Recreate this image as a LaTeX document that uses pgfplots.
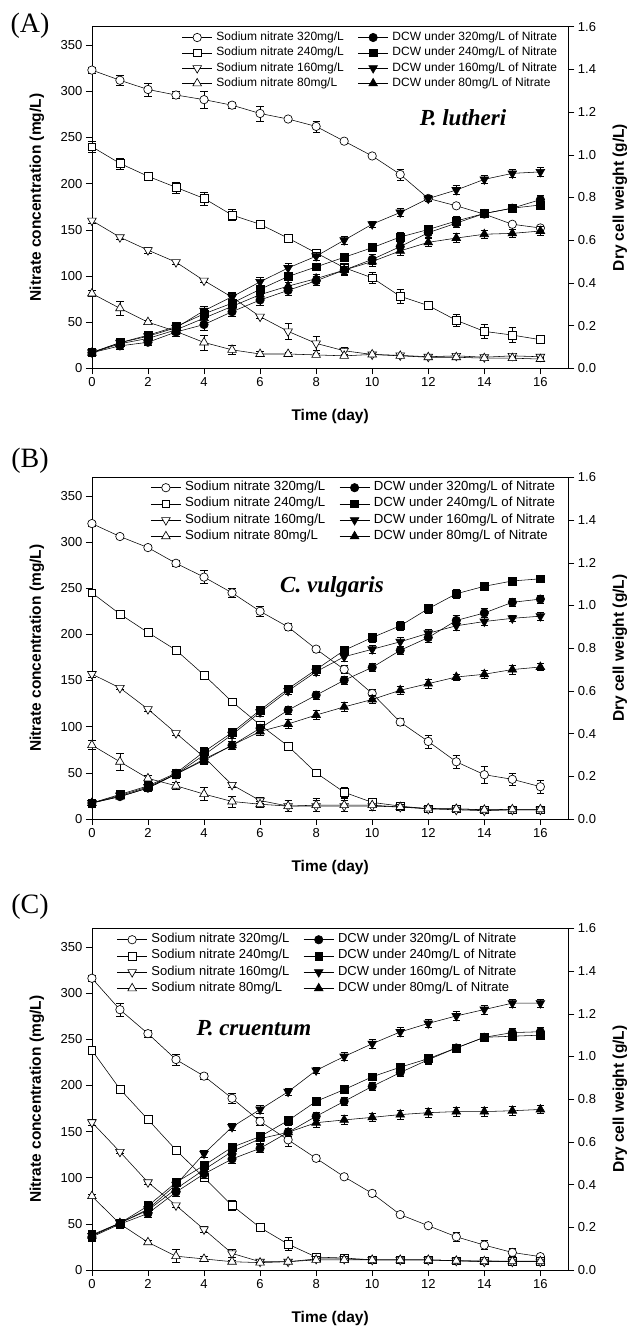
\documentclass[border=0pt]{standalone}
\usepackage{fontspec}
\setmainfont{Liberation Sans}
\newfontfamily\serifnt{Liberation Serif}
\usepackage{pgfplots}
\usepackage{pgfplotstable}
\pgfplotsset{compat=1.18}

\pgfplotsset{
 base/.style={black, line width=0.55pt, every mark/.append style={solid, line width=0.65pt}},
 s320/.style={base, mark=*, mark size=4.2pt, every mark/.append style={fill=white}},
 s240/.style={base, mark=square*, mark size=3.9pt, every mark/.append style={fill=white}},
 s160/.style={base, mark=triangle*, mark size=5pt, every mark/.append style={fill=white, rotate=180}},
 s80/.style={base, mark=triangle*, mark size=5pt, every mark/.append style={fill=white}},
 d320/.style={base, mark=*, mark size=4.2pt, every mark/.append style={fill=black}},
 d240/.style={base, mark=square*, mark size=3.9pt, every mark/.append style={fill=black}},
 d160/.style={base, mark=triangle*, mark size=5pt, every mark/.append style={fill=black, rotate=180}},
 d80/.style={base, mark=triangle*, mark size=5pt, every mark/.append style={fill=black}},
 errb/.style={error bars/y dir=both, error bars/y explicit,
   error bars/error mark options={rotate=90, mark size=3.6pt, line width=0.6pt, black},
   error bars/error bar style={line width=0.6pt, black}},
 common/.style={scale only axis, width=476.5pt, height=341.6pt, anchor=south west,
   xmin=0, xmax=17, clip=false, tick align=outside, major tick length=6pt,
   tick style={black, line width=0.6pt}, axis line style={line width=0.6pt},
   /pgf/number format/assume math mode=true,
   ticklabel style={font=\fontsize{13}{13}\selectfont},
   label style={font=\fontsize{15.5}{16}\selectfont\bfseries}},
 leftax/.style={common, ymin=0, ymax=370,
   xtick={0,2,4,6,8,10,12,14,16}, ytick={0,50,100,150,200,250,300,350},
   xtick pos=bottom, ytick pos=left,
   xlabel={Time (day)}, ylabel={Nitrate concentration (mg/L)},
   xlabel style={at={(axis description cs:0.5,-0.1417)}, anchor=center},
   ylabel style={at={(axis description cs:-0.1152,0.5)}, anchor=center}},
 rightax/.style={common, ymin=0, ymax=1.6, axis x line=none, axis y line*=right,
   ytick={0,0.2,0.4,0.6,0.8,1.0,1.2,1.4,1.6},
   yticklabel style={/pgf/number format/.cd, fixed, fixed zerofill, precision=1},
   ylabel={Dry cell weight (g/L)},
   ylabel style={at={(axis description cs:1.108,0.5)}, anchor=center},
   legend columns=2,
   legend cell align=left,
   legend image code/.code={\draw[mark repeat=2,mark phase=2] plot coordinates {(0pt,0pt) (15pt,0pt) (30pt,0pt)};},
   legend style={draw=none, fill=none, inner sep=0pt, anchor=north west,
     nodes={inner sep=0pt, text height=9pt, text depth=3pt},
     /tikz/every odd column/.append style={column sep=4pt},
     /tikz/every even column/.append style={column sep=14pt}}},
}

\newcommand{\panel}[7]{%
\begin{axis}[leftax, at={(91.9pt,#1)}]
 \addplot[s320, errb] table[x=d,y=n320,y error=e1]{#2};
 \addplot[s240, errb] table[x=d,y=n240,y error=e2]{#2};
 \addplot[s160, errb] table[x=d,y=n160,y error=e3]{#2};
 \addplot[s80, errb] table[x=d,y=n80,y error=e4]{#2};
\end{axis}
\begin{axis}[rightax, at={(91.9pt,#1)},
   legend style={at={(#4,#5)}, font=\fontsize{#6}{#6}\selectfont, row sep=#7}]
 \addlegendimage{s320}\addlegendentry{Sodium nitrate 320mg/L}
 \addlegendimage{d320}\addlegendentry{DCW under 320mg/L of Nitrate}
 \addlegendimage{s240}\addlegendentry{Sodium nitrate 240mg/L}
 \addlegendimage{d240}\addlegendentry{DCW under 240mg/L of Nitrate}
 \addlegendimage{s160}\addlegendentry{Sodium nitrate 160mg/L}
 \addlegendimage{d160}\addlegendentry{DCW under 160mg/L of Nitrate}
 \addlegendimage{s80}\addlegendentry{Sodium nitrate 80mg/L}
 \addlegendimage{d80}\addlegendentry{DCW under 80mg/L of Nitrate}
 \addplot[d320, forget plot, errb] table[x=d,y=w320,y error=f1]{#3};
 \addplot[d240, forget plot, errb] table[x=d,y=w240,y error=f2]{#3};
 \addplot[d160, forget plot, errb] table[x=d,y=w160,y error=f3]{#3};
 \addplot[d80, forget plot, errb] table[x=d,y=w80,y error=f4]{#3};
\end{axis}}

\begin{document}

\pgfplotstableread{
d n320 e1 n240 e2 n160 e3 n80 e4
0 323 3 240 6 160 3 81 3
1 312 5 222 6 142 2 65 8
2 302 7 208 3 128 3 50 2
3 296 4 196 6 115 2 40 3
4 291 9 184 7 95 2 28 8
5 285 3 166 6 77 4 20 5
6 276 8 156 3 56 2 15.5 3
7 270 2 141 2 40 9 15.5 2
8 262 6 125 4 27 8 14.5 2
9 246 2 109 3 19 4 13.5 2
10 230 2 98 6 15 2 15 2
11 210 6 78 8 14 2 13.5 2
12 184 2 68 2 12.5 2 12 2
13 176 2 52 7 13.5 2 12 2
14 167 2 40 8 12 2 11 2
15 156 2 36 8 13.5 2 11 2
16 152 2 31 2 12.5 2 10 2
}\tabAN
\pgfplotstableread{
d w320 f1 w240 f2 w160 f3 w80 f4
0 0.073 0.01 0.073 0.01 0.075 0.01 0.073 0.01
1 0.105 0.015 0.12 0.01 0.12 0.01 0.115 0.01
2 0.122 0.015 0.155 0.01 0.15 0.01 0.14 0.01
3 0.17 0.02 0.195 0.015 0.19 0.015 0.18 0.015
4 0.205 0.025 0.255 0.02 0.27 0.02 0.235 0.02
5 0.265 0.02 0.305 0.02 0.335 0.02 0.29 0.02
6 0.32 0.025 0.37 0.02 0.405 0.02 0.345 0.02
7 0.365 0.025 0.43 0.02 0.47 0.02 0.385 0.02
8 0.41 0.02 0.475 0.015 0.525 0.02 0.42 0.02
9 0.46 0.025 0.52 0.02 0.60 0.02 0.46 0.02
10 0.51 0.025 0.565 0.015 0.675 0.015 0.50 0.02
11 0.57 0.02 0.615 0.02 0.73 0.02 0.55 0.02
12 0.635 0.02 0.65 0.015 0.795 0.015 0.59 0.02
13 0.68 0.02 0.69 0.02 0.835 0.02 0.61 0.02
14 0.725 0.02 0.725 0.015 0.885 0.02 0.628 0.02
15 0.75 0.02 0.75 0.02 0.913 0.02 0.632 0.02
16 0.79 0.02 0.765 0.02 0.92 0.02 0.643 0.02
}\tabAW
\pgfplotstableread{
d n320 e1 n240 e2 n160 e3 n80 e4
0 320 3 245 3 157 3 80 5
1 306 2 222 2 142 2 62 9
2 294 2 202 2 119 2 44 3
3 277 3 183 2 93 2 36 4
4 262 7 156 2 67 2 27 7
5 245 5 127 2 37 3 19 6
6 225 5 102 3 20 3 16 3
7 208 4 79 3 14 6 14 6
8 184 3 50 3 14 6 15 7
9 162 4 29 5 14 6 15 7
10 136 5 18 4 14 5 15 6
11 105 4 14 3 13 3 13 3
12 84 7 11 2 11 2 11.5 2
13 62 7 11 2 10 2 11 2
14 48 9 10 2 9 2 10 2
15 43 7 10 2 10 2 10.5 2
16 35 7 10 2 10 2 10.5 2
}\tabBN
\pgfplotstableread{
d w320 f1 w240 f2 w160 f3 w80 f4
0 0.075 0.01 0.075 0.01 0.075 0.01 0.075 0.01
1 0.105 0.01 0.115 0.01 0.11 0.01 0.105 0.01
2 0.145 0.015 0.155 0.015 0.15 0.015 0.145 0.015
3 0.21 0.02 0.215 0.02 0.21 0.02 0.21 0.02
4 0.28 0.02 0.315 0.02 0.30 0.02 0.275 0.02
5 0.345 0.02 0.405 0.015 0.395 0.015 0.345 0.02
6 0.425 0.02 0.51 0.02 0.50 0.02 0.41 0.02
7 0.51 0.02 0.61 0.015 0.60 0.015 0.445 0.02
8 0.58 0.02 0.70 0.015 0.69 0.015 0.487 0.02
9 0.65 0.02 0.79 0.02 0.76 0.02 0.525 0.02
10 0.71 0.02 0.85 0.02 0.795 0.02 0.56 0.02
11 0.79 0.02 0.905 0.02 0.83 0.02 0.603 0.02
12 0.85 0.02 0.985 0.02 0.87 0.02 0.634 0.02
13 0.93 0.025 1.055 0.02 0.905 0.02 0.665 0.015
14 0.965 0.02 1.09 0.02 0.925 0.02 0.678 0.02
15 1.015 0.02 1.115 0.015 0.94 0.015 0.70 0.02
16 1.03 0.02 1.125 0.015 0.95 0.02 0.712 0.015
}\tabBW
\pgfplotstableread{
d n320 e1 n240 e2 n160 e3 n80 e4
0 316 3 238 3 160 3 80 2
1 282 7 196 3 128 2 50 3
2 256 4 163 3 95 2 30 2
3 228 6 130 4 70 2 15 7
4 210 3 100 3 44 3 12 3
5 186 5 70 5 18 4 9 2
6 161 4 46 3 9 2 8 2
7 141 7 28 7 9 2 9 2
8 121 3 14 3 12 2 11 2
9 101 3 13 3 12 2 11 2
10 83 3 11 3 11 2 11 2
11 60 3 11 3 11 2 11 2
12 48 3 11 3 11 2 11 2
13 36 5 10 3 10 2 10 2
14 27 5 10 3 9 2 9.5 2
15 19 4 9 3 9 2 9.5 2
16 14.5 3 9 3 9 2 9.5 2
}\tabCN
\pgfplotstableread{
d w320 f1 w240 f2 w160 f3 w80 f4
0 0.155 0.02 0.165 0.02 0.16 0.02 0.16 0.02
1 0.215 0.02 0.22 0.015 0.22 0.015 0.22 0.015
2 0.265 0.02 0.30 0.02 0.285 0.02 0.28 0.02
3 0.365 0.02 0.41 0.02 0.40 0.02 0.38 0.02
4 0.45 0.02 0.49 0.02 0.545 0.015 0.47 0.02
5 0.52 0.02 0.575 0.02 0.67 0.015 0.555 0.02
6 0.57 0.02 0.625 0.02 0.752 0.02 0.615 0.02
7 0.645 0.02 0.70 0.02 0.835 0.015 0.645 0.02
8 0.72 0.02 0.79 0.015 0.935 0.015 0.69 0.02
9 0.79 0.02 0.845 0.015 1.00 0.02 0.703 0.02
10 0.86 0.02 0.905 0.015 1.06 0.02 0.715 0.02
11 0.925 0.02 0.95 0.02 1.115 0.02 0.728 0.02
12 0.985 0.02 0.99 0.02 1.155 0.02 0.737 0.02
13 1.04 0.015 1.04 0.015 1.19 0.02 0.742 0.02
14 1.09 0.015 1.09 0.015 1.22 0.02 0.742 0.02
15 1.112 0.02 1.095 0.015 1.25 0.02 0.746 0.02
16 1.116 0.02 1.10 0.02 1.25 0.02 0.752 0.02
}\tabCW

\begin{tikzpicture}
\path[use as bounding box] (0pt,0pt) rectangle (629pt,-1328pt);
\panel{-368.3pt}{\tabAN}{\tabAW}{0.1885}{0.9865}{12}{3.3pt}
\panel{-819pt}{\tabBN}{\tabBW}{0.1228}{0.988}{13.2}{4.2pt}
\panel{-1270pt}{\tabCN}{\tabCW}{0.052}{0.985}{13}{4.2pt}
\node[font=\serifnt\fontsize{28}{28}\selectfont] at (30pt,-26pt) {(A)};
\node[font=\serifnt\fontsize{28}{28}\selectfont] at (30pt,-461pt) {(B)};
\node[font=\serifnt\fontsize{28}{28}\selectfont] at (30pt,-907pt) {(C)};
\node[font=\serifnt\bfseries\itshape\fontsize{23}{23}\selectfont] at (463pt,-118pt) {P. lutheri};
\node[font=\serifnt\bfseries\itshape\fontsize{23}{23}\selectfont] at (332pt,-587pt) {C. vulgaris};
\node[font=\serifnt\bfseries\itshape\fontsize{23}{23}\selectfont] at (254pt,-1028pt) {P. cruentum};
\end{tikzpicture}
\end{document}
